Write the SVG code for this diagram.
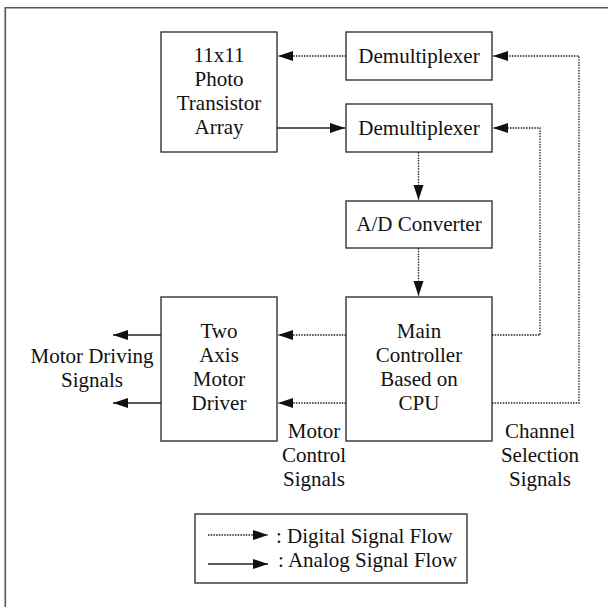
<svg xmlns="http://www.w3.org/2000/svg" width="608" height="607" viewBox="0 0 608 607">
<style>
.box{fill:#fff;stroke:#333;stroke-width:1.4}
.t{font-family:"Liberation Serif","Times New Roman",serif;font-size:21px;fill:#111;text-anchor:middle}
.tl{font-family:"Liberation Serif","Times New Roman",serif;font-size:21px;fill:#111}
.dot{fill:none;stroke:#222;stroke-width:1.3;stroke-dasharray:1.5 1.2}
.sol{fill:none;stroke:#222;stroke-width:1.4}
.frame{fill:none;stroke:#555;stroke-width:1.6}
</style>
<defs>
<marker id="ah" markerUnits="userSpaceOnUse" markerWidth="16" markerHeight="12" viewBox="0 0 16 12" refX="15" refY="6" orient="auto">
<polygon points="0,1 15,6 0,11" fill="#111"/>
</marker>
</defs>
<rect width="608" height="607" fill="#fff"/>
<path class="frame" d="M5.3,607 V7.7 H608"/>

<g id="photo"><rect class="box" x="161" y="32" width="116" height="120"/>
<text class="t" x="219" y="62">11x11</text><text class="t" x="219" y="86">Photo</text><text class="t" x="219" y="110">Transistor</text><text class="t" x="219" y="134">Array</text></g>
<g id="demux1"><rect class="box" x="346" y="32" width="146" height="48"/><text class="t" x="419" y="63">Demultiplexer</text></g>
<g id="demux2"><rect class="box" x="346" y="104" width="146" height="48"/><text class="t" x="419" y="135">Demultiplexer</text></g>
<g id="adc"><rect class="box" x="346" y="201" width="146" height="47"/><text class="t" x="419" y="231">A/D Converter</text></g>
<g id="main"><rect class="box" x="346" y="297" width="146" height="144"/>
<text class="t" x="419" y="338">Main</text><text class="t" x="419" y="362">Controller</text><text class="t" x="419" y="386">Based on</text><text class="t" x="419" y="410">CPU</text></g>
<g id="driver"><rect class="box" x="161" y="297" width="116" height="144"/>
<text class="t" x="219" y="338">Two</text><text class="t" x="219" y="362">Axis</text><text class="t" x="219" y="386">Motor</text><text class="t" x="219" y="410">Driver</text></g>

<g id="connectors">
<line class="dot" x1="346" y1="56" x2="278" y2="56" marker-end="url(#ah)"/>
<polyline class="dot" points="492,403 579,403 579,56 493,56" marker-end="url(#ah)"/>
<polyline class="dot" points="492,335 540,335 540,128 493,128" marker-end="url(#ah)"/>
<line class="sol" x1="277" y1="128" x2="345" y2="128" marker-end="url(#ah)"/>
<line class="dot" x1="418.5" y1="152" x2="418.5" y2="200" marker-end="url(#ah)"/>
<line class="dot" x1="418.5" y1="248" x2="418.5" y2="296" marker-end="url(#ah)"/>
<line class="dot" x1="346" y1="335" x2="278" y2="335" marker-end="url(#ah)"/>
<line class="dot" x1="346" y1="403" x2="278" y2="403" marker-end="url(#ah)"/>
<line class="sol" x1="161" y1="335" x2="113" y2="335" marker-end="url(#ah)"/>
<line class="sol" x1="161" y1="403" x2="113" y2="403" marker-end="url(#ah)"/>
</g>

<g id="labels">
<text class="t" x="92" y="363">Motor Driving</text><text class="t" x="92" y="387">Signals</text>
<text class="t" x="314" y="438">Motor</text><text class="t" x="314" y="462">Control</text><text class="t" x="314" y="486">Signals</text>
<text class="t" x="540" y="438">Channel</text><text class="t" x="540" y="462">Selection</text><text class="t" x="540" y="486">Signals</text>
</g>

<g id="legend">
<rect class="box" x="195" y="514" width="272" height="69"/>
<line class="dot" x1="208" y1="535" x2="268" y2="535" marker-end="url(#ah)"/>
<line class="sol" x1="208" y1="564" x2="268" y2="564" marker-end="url(#ah)"/>
<text class="tl" x="276" y="543">: Digital Signal Flow</text>
<text class="tl" x="278" y="567">: Analog Signal Flow</text>
</g>
</svg>
